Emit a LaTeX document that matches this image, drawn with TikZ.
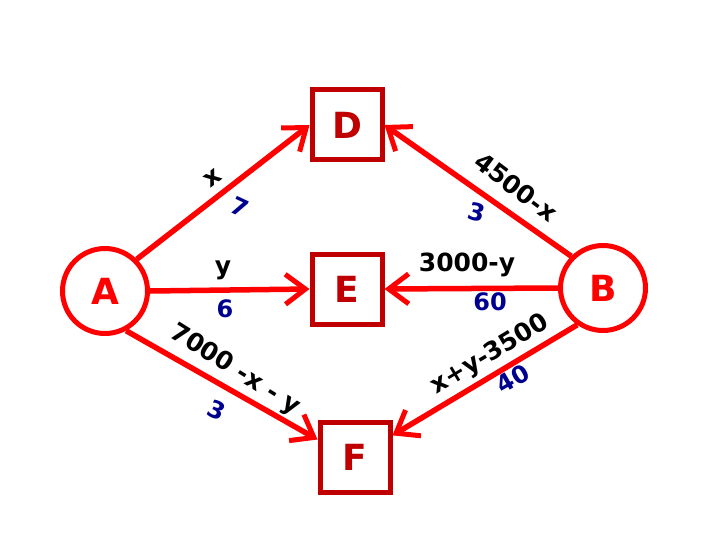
\documentclass[tikz,border=0pt]{standalone}
\usepackage{fontspec}
\setmainfont{DejaVu Sans}
\usetikzlibrary{arrows.meta}
\definecolor{edgered}{HTML}{FF0000}
\definecolor{boxred}{HTML}{C00000}
\definecolor{numblue}{HTML}{000090}
\tikzset{
  endpoint/.style={circle, draw=edgered, line width=5pt, minimum size=85pt, inner sep=0pt,
    text=edgered, font=\fontsize{36}{36}\selectfont\bfseries},
  midbox/.style={rectangle, draw=boxred, line width=5pt, minimum size=70pt, inner sep=0pt,
    fill=white, text=boxred, font=\fontsize{36}{36}\selectfont\bfseries},
  flow/.style={draw=edgered, line width=5.5pt,
    -{Straight Barb[length=20pt,width=30pt,line width=5pt]}},
  flowlbl/.style={text=black, font=\fontsize{25}{25}\selectfont\bfseries, inner sep=0pt},
  costlbl/.style={text=numblue, font=\fontsize{24}{24}\selectfont\bfseries, inner sep=0pt}
}
\begin{document}
\begin{tikzpicture}[x=1pt, y=-1pt]
\useasboundingbox (0,0) rectangle (720,540);
\node[endpoint] (A) at (105,291) {A};
\node[endpoint] (B) at (603,288) {B};
\node[midbox] (D) at (347,125) {D};
\node[midbox] (E) at (347,289) {E};
\node[midbox] (F) at (355,457) {F};

\draw[flow] (A.45) -- (D.west);
\draw[flow] (A.east) -- (E.west);
\draw[flow] (A.-62) -- (F.155);
\draw[flow] (B.135) -- (D.east);
\draw[flow] (B.west) -- (E.east);
\draw[flow] (B.235) -- (F.30);

\node[flowlbl, rotate=37] (lx) at (213,178) {x};
\node[costlbl, rotate=-25] (c7) at (240,207) {7};
\node[flowlbl] (ly) at (223,270) {y};
\node[costlbl] (c6) at (225,309) {6};
\node[flowlbl, rotate=-32] (l7000) at (235,370) {7000 -x - y};
\node[costlbl, rotate=-25] (c3a) at (217,410) {3};
\node[flowlbl, rotate=-37] (l4500) at (516,187) {4500-x};
\node[costlbl, rotate=-15] (c3b) at (477,212) {3};
\node[flowlbl] (l3000) at (467,265) {3000-y};
\node[costlbl] (c60) at (490,302) {60};
\node[flowlbl, rotate=31] (lxy) at (490,355) {x+y-3500};
\node[costlbl, rotate=30] (c40) at (513,379) {40};
\end{tikzpicture}
\end{document}
